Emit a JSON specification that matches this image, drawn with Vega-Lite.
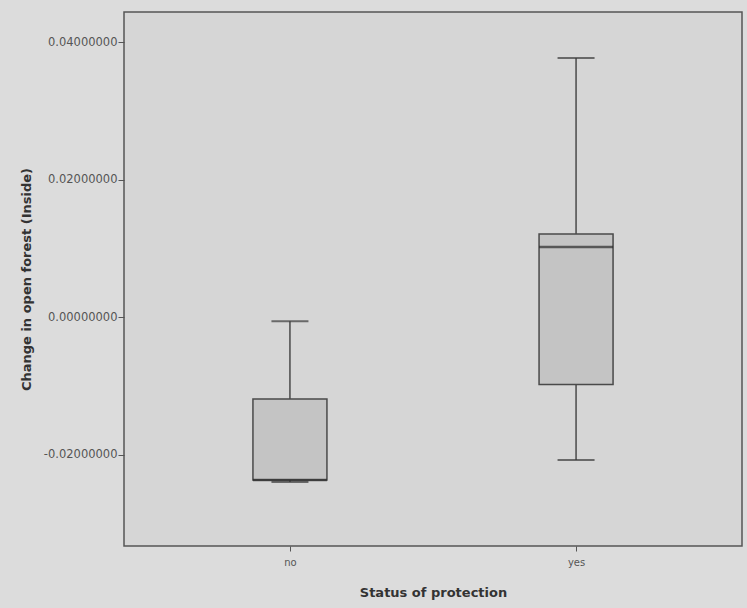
{
  "$schema": "https://vega.github.io/schema/vega-lite/v6.json",
  "autosize": "none",
  "width": 618,
  "height": 534,
  "padding": {"left": 124, "top": 12, "right": 5, "bottom": 62},
  "background": "#dcdcdc",
  "data": {
    "values": [
      {"status": "no", "lower": -0.0240, "q1": -0.0237, "median": -0.0237, "q3": -0.0119, "upper": -0.0006},
      {"status": "yes", "lower": -0.0208, "q1": -0.0098, "median": 0.0102, "q3": 0.0121, "upper": 0.0377}
    ]
  },
  "config": {
    "view": {"fill": "#d6d6d6", "stroke": "#555555", "strokeWidth": 1.5},
    "font": "DejaVu Sans"
  },
  "encoding": {
    "x": {
      "field": "status", "type": "nominal",
      "scale": {"type": "point", "padding": 0.58},
      "axis": {
        "title": "Status of protection", "titleFontSize": 13, "titleFontWeight": "bold", "titleColor": "#333333",
        "titlePadding": 19, "labelAngle": 0, "labelFontSize": 10, "labelColor": "#555555",
        "domain": false, "tickColor": "#555555", "tickSize": 5, "labelPadding": 6, "grid": false
      }
    }
  },
  "layer": [
    {
      "mark": {"type": "rule", "color": "#4a4a4a", "strokeWidth": 1.5},
      "encoding": {
        "y": {
          "field": "lower", "type": "quantitative",
          "scale": {"domain": [-0.0333, 0.0444], "nice": false, "zero": false},
          "axis": {
            "title": "Change in open forest (Inside)", "titleFontSize": 13, "titleFontWeight": "bold", "titleColor": "#333333",
            "titlePadding": 10, "values": [-0.02, 0, 0.02, 0.04], "format": ".8f",
            "labelExpr": "replace(datum.label, '\u2212', '-')",
            "labelFontSize": 11.5, "labelColor": "#555555", "domain": false, "grid": false,
            "tickColor": "#555555", "tickSize": 6, "labelPadding": 1
          }
        },
        "y2": {"field": "upper"}
      }
    },
    {
      "mark": {"type": "tick", "color": "#3a3a3a", "size": 37, "thickness": 2},
      "encoding": {"y": {"field": "upper", "type": "quantitative"}}
    },
    {
      "mark": {"type": "tick", "color": "#3a3a3a", "size": 37, "thickness": 2},
      "encoding": {"y": {"field": "lower", "type": "quantitative"}}
    },
    {
      "mark": {"type": "bar", "size": 74, "fill": "#c4c4c4", "stroke": "#4a4a4a", "strokeWidth": 1.5},
      "encoding": {
        "y": {"field": "q1", "type": "quantitative"},
        "y2": {"field": "q3"}
      }
    },
    {
      "mark": {"type": "tick", "color": "#2a2a2a", "size": 74, "thickness": 2.5},
      "encoding": {"y": {"field": "median", "type": "quantitative"}}
    }
  ]
}
